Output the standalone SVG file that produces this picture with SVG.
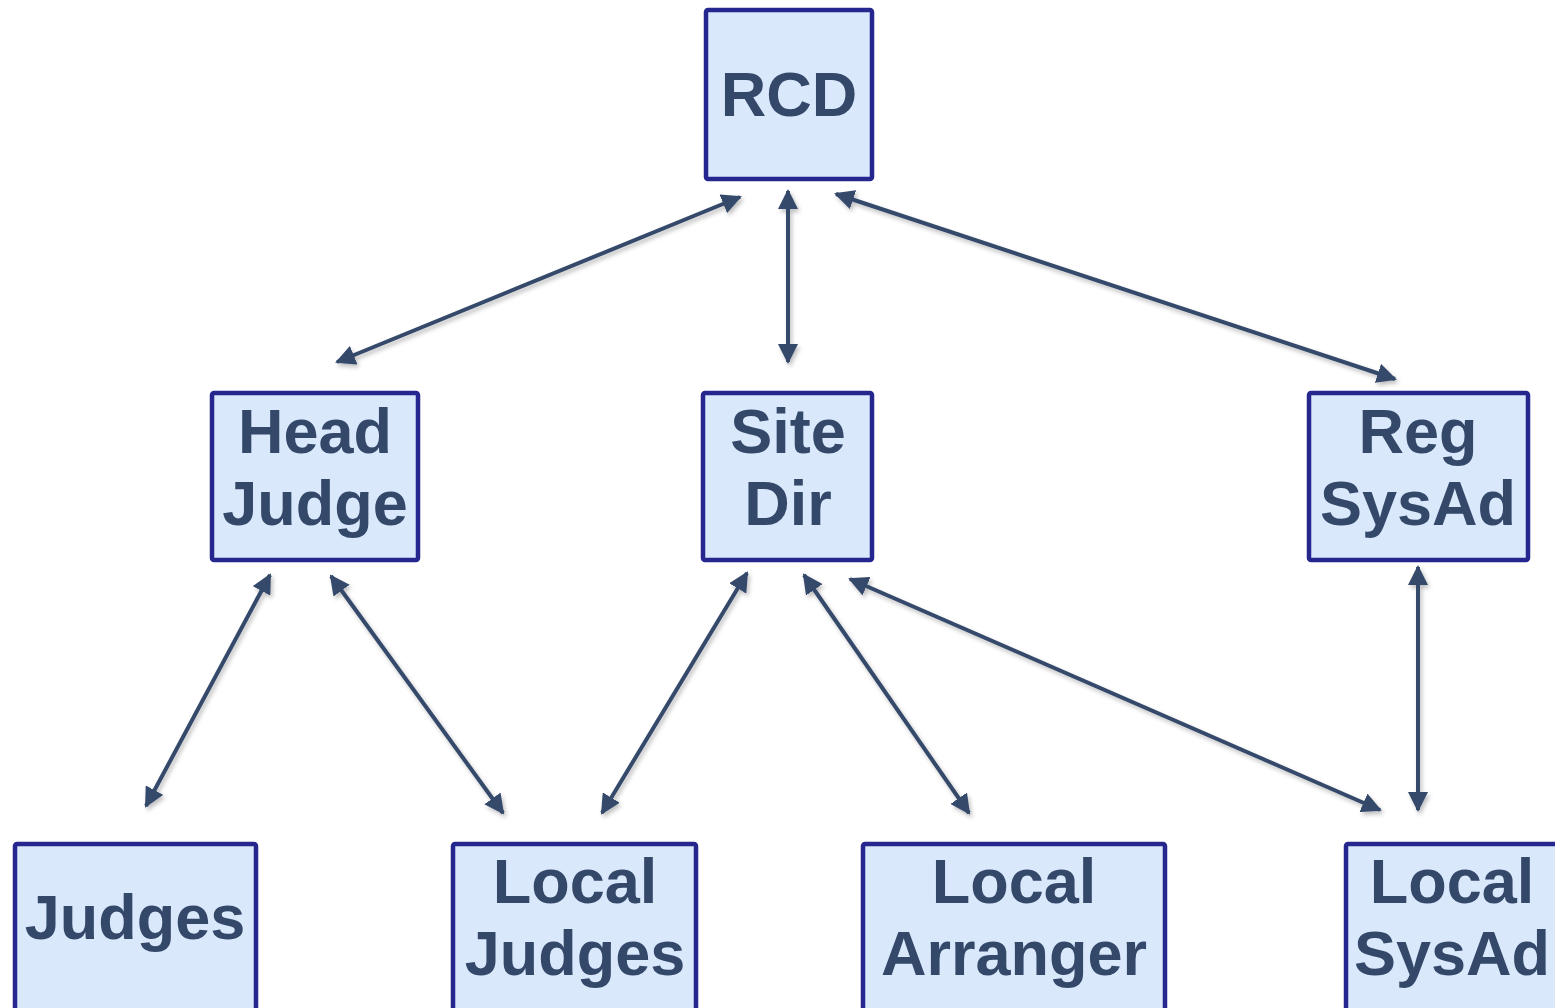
<svg xmlns="http://www.w3.org/2000/svg" width="1555" height="1008" viewBox="0 0 1555 1008">
<style>
.box{fill:#dae8fc;stroke:#26268f;stroke-width:4.5}
.t{font-family:"Liberation Sans",Arial,sans-serif;font-weight:bold;font-size:63px;fill:#34486a;text-anchor:middle}
.c{stroke:#34486a;stroke-width:4;fill:none;marker-start:url(#ah);marker-end:url(#ah)}
</style>
<defs>
<marker id="ah" viewBox="0 0 10 10" refX="9" refY="5" markerWidth="5" markerHeight="5" orient="auto-start-reverse" markerUnits="strokeWidth">
<path d="M0,0 L10,5 L0,10 z" fill="#34486a"/>
</marker>
<filter id="sh" x="-10%" y="-10%" width="120%" height="120%">
<feDropShadow dx="2" dy="3" stdDeviation="2" flood-color="#000" flood-opacity="0.25"/>
</filter>
</defs>
<g id="connectors" filter="url(#sh)">
<line class="c" x1="740" y1="197" x2="337" y2="362"/>
<line class="c" x1="788" y1="191" x2="788" y2="362"/>
<line class="c" x1="836" y1="194" x2="1395" y2="379"/>
<line class="c" x1="270" y1="575" x2="146" y2="806"/>
<line class="c" x1="331" y1="576" x2="503" y2="813"/>
<line class="c" x1="747" y1="573" x2="602" y2="813"/>
<line class="c" x1="804" y1="575" x2="969" y2="813"/>
<line class="c" x1="850" y1="579" x2="1380" y2="810"/>
<line class="c" x1="1418" y1="567" x2="1418" y2="810"/>
</g>
<g id="rcd"><rect class="box" x="706" y="10" width="166" height="169" rx="2"/><text class="t" x="789" y="116">RCD</text></g>
<g id="head-judge"><rect class="box" x="212" y="393" width="206" height="167" rx="2"/><text class="t" x="315" y="453">Head</text><text class="t" x="315" y="525">Judge</text></g>
<g id="site-dir"><rect class="box" x="703" y="393" width="169" height="167" rx="2"/><text class="t" x="788" y="453">Site</text><text class="t" x="788" y="525">Dir</text></g>
<g id="reg-sysad"><rect class="box" x="1309" y="393" width="219" height="167" rx="2"/><text class="t" x="1418" y="453">Reg</text><text class="t" x="1418" y="525">SysAd</text></g>
<g id="judges"><rect class="box" x="15" y="844" width="241" height="180" rx="2"/><text class="t" x="135" y="939">Judges</text></g>
<g id="local-judges"><rect class="box" x="453" y="844" width="243" height="180" rx="2"/><text class="t" x="575" y="903">Local</text><text class="t" x="575" y="975">Judges</text></g>
<g id="local-arranger"><rect class="box" x="863" y="844" width="302" height="180" rx="2"/><text class="t" x="1014" y="903">Local</text><text class="t" x="1014" y="975">Arranger</text></g>
<g id="local-sysad"><rect class="box" x="1346" y="844" width="230" height="180" rx="2"/><text class="t" x="1452" y="903">Local</text><text class="t" x="1452" y="975">SysAd</text></g>
</svg>
